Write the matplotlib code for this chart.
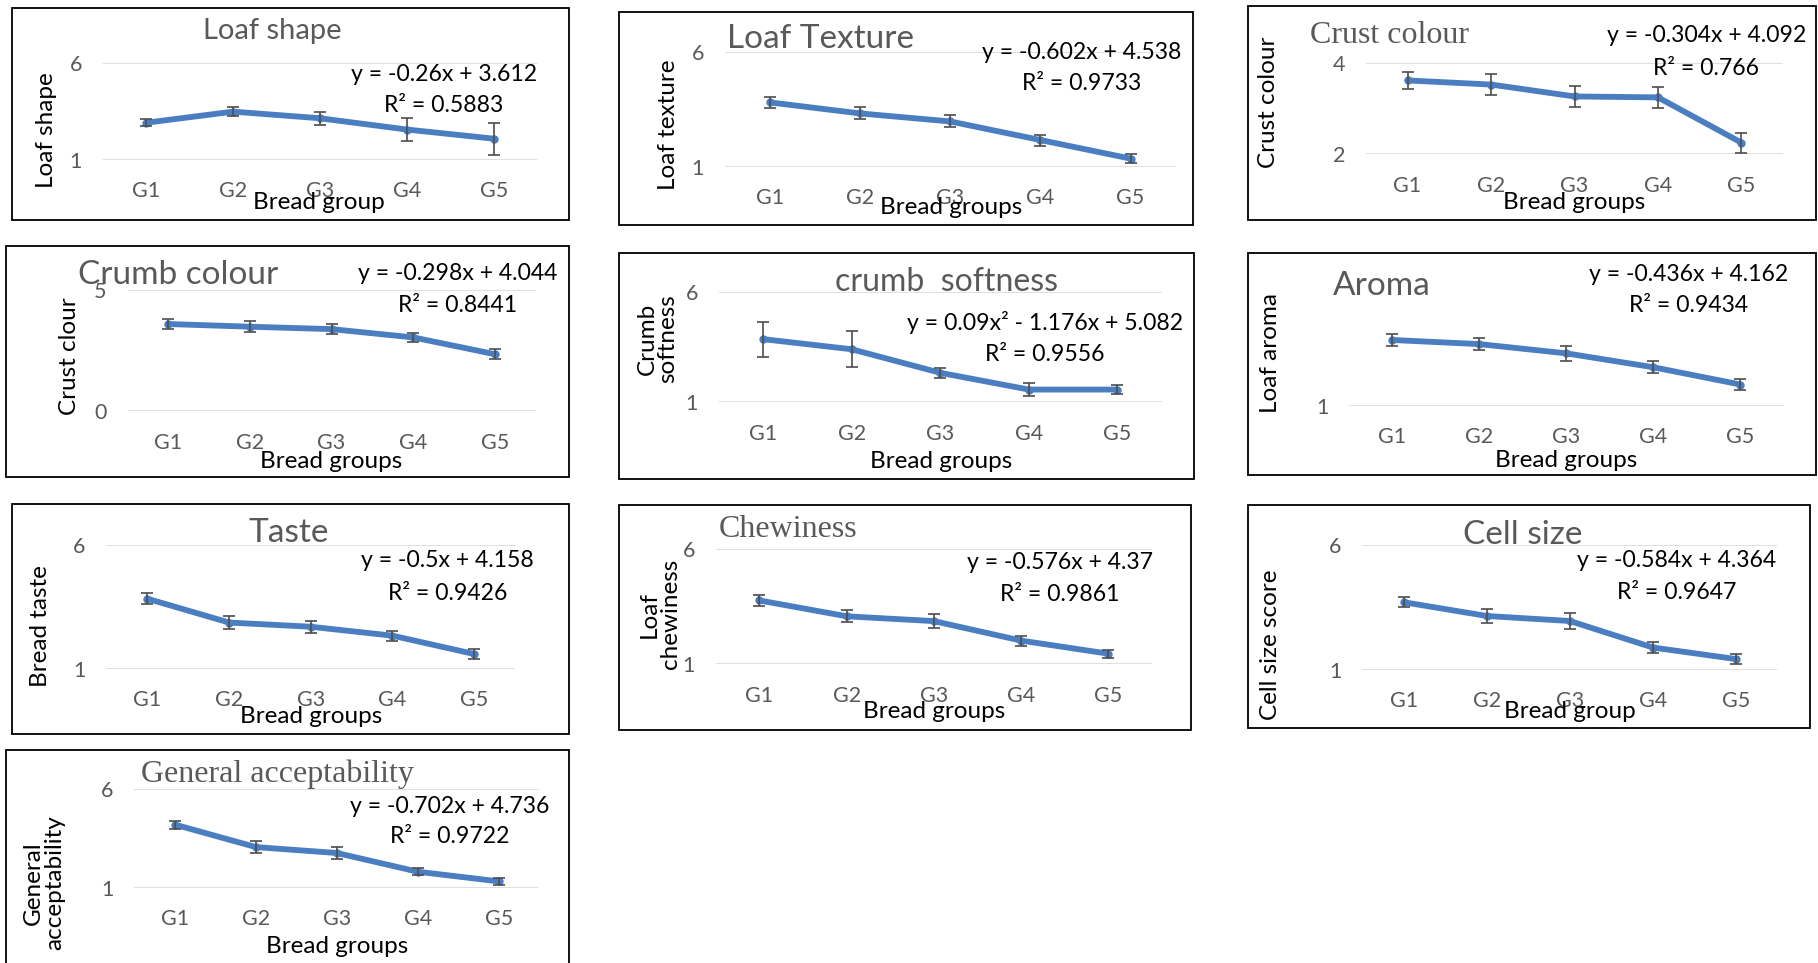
import matplotlib
matplotlib.use("Agg")
import matplotlib.pyplot as plt
from matplotlib.patches import Rectangle

plt.rcParams['font.family'] = ['Lato', 'DejaVu Sans']

# data
groups = ['G1', 'G2', 'G3', 'G4', 'G5']

loaf_shape = [2.91, 3.48, 3.14, 2.56, 2.09]
loaf_shape_err = [0.17, 0.24, 0.34, 0.58, 0.82]

loaf_texture = [3.81, 3.33, 2.98, 2.17, 1.36]
loaf_texture_err = [0.23, 0.26, 0.26, 0.24, 0.20]

crust_colour = [3.61, 3.52, 3.26, 3.24, 2.25]
crust_colour_err = [0.19, 0.22, 0.22, 0.23, 0.22]

crumb_colour = [3.59, 3.48, 3.38, 3.04, 2.35]
crumb_colour_err = [0.21, 0.22, 0.20, 0.18, 0.20]

crumb_softness = [3.86, 3.40, 2.33, 1.57, 1.57]
crumb_softness_err = [0.80, 0.81, 0.24, 0.30, 0.19]

aroma = [3.55, 3.39, 3.03, 2.49, 1.82]
aroma_err = [0.25, 0.23, 0.28, 0.23, 0.23]

taste = [3.82, 2.86, 2.69, 2.33, 1.59]
taste_err = [0.22, 0.27, 0.25, 0.20, 0.19]

chewiness = [3.77, 3.08, 2.87, 2.02, 1.45]
chewiness_err = [0.22, 0.26, 0.31, 0.22, 0.18]

cell_size = [3.70, 3.15, 2.95, 1.89, 1.43]
cell_size_err = [0.20, 0.27, 0.30, 0.22, 0.19]

general_acc = [4.20, 3.06, 2.76, 1.81, 1.32]
general_acc_err = [0.20, 0.29, 0.28, 0.19, 0.17]

equations = [
    'y = -0.26x + 3.612', 'y = -0.602x + 4.538', 'y = -0.304x + 4.092',
    'y = -0.298x + 4.044', 'y = 0.09x² - 1.176x + 5.082', 'y = -0.436x + 4.162',
    'y = -0.5x + 4.158', 'y = -0.576x + 4.37', 'y = -0.584x + 4.364',
    'y = -0.702x + 4.736',
]
r_squared = ['R² = 0.5883', 'R² = 0.9733', 'R² = 0.766', 'R² = 0.8441', 'R² = 0.9556',
             'R² = 0.9434', 'R² = 0.9426', 'R² = 0.9861', 'R² = 0.9647', 'R² = 0.9722']

# layout in reference pixels (1568 x 831 grid)
W, H = 1568, 831
panels = [
    dict(vals=loaf_shape, err=loaf_shape_err, box=(10, 7, 491, 190), ax=(88.5, 54, 463.5, 138),
         ylim=(1, 6), yt=[1, 6], title='Loaf shape', tpos=(235, 27), tha='center', serif=False, tfs=21,
         eq=(383, 64), r2=(383, 91), ylab='Loaf shape', ypos=(40, 112), xlab='Bread group', xpos=(275, 175)),
    dict(vals=loaf_texture, err=loaf_texture_err, box=(534, 10, 1029, 194), ax=(625, 45, 1014, 144),
         ylim=(1, 6), yt=[1, 6], title='Loaf Texture', tpos=(627, 34), tha='left', serif=False, tfs=24,
         eq=(933, 45), r2=(933, 72), ylab='Loaf texture', ypos=(577, 108), xlab='Bread groups', xpos=(820, 179)),
    dict(vals=crust_colour, err=crust_colour_err, box=(1076, 5, 1566, 190), ax=(1178, 54, 1538, 133),
         ylim=(2, 4), yt=[2, 4], title='Crust colour', tpos=(1130, 31), tha='left', serif=True, tfs=23,
         eq=(1472, 31), r2=(1471, 59), ylab='Crust colour', ypos=(1094, 88), xlab='Bread groups', xpos=(1358, 175)),
    dict(vals=crumb_colour, err=crumb_colour_err, box=(5, 212, 491, 412), ax=(110, 250, 462, 355),
         ylim=(0, 5), yt=[0, 5], title='Crumb colour', tpos=(67, 237), tha='left', serif=False, tfs=24,
         eq=(395, 236), r2=(395, 264), ylab='Crust clour', ypos=(60, 307), xlab='Bread groups', xpos=(286, 398)),
    dict(vals=crumb_softness, err=crumb_softness_err, box=(534, 218, 1030, 413), ax=(620, 252, 1002, 347),
         ylim=(1, 6), yt=[1, 6], title='crumb  softness', tpos=(816, 243), tha='center', serif=False, tfs=23,
         eq=(901, 278), r2=(901, 306), ylab='Crumb\nsoftness', ypos=(567, 292), xlab='Bread groups', xpos=(812, 398)),
    dict(vals=aroma, err=aroma_err, box=(1076, 218, 1566, 410), ax=(1163.5, 239, 1538.5, 350),
         ylim=(1, 6), yt=[1], title='Aroma', tpos=(1150, 247), tha='left', serif=False, tfs=24,
         eq=(1456, 237), r2=(1456, 264), ylab='Loaf aroma', ypos=(1096, 305), xlab='Bread groups', xpos=(1351, 397)),
    dict(vals=taste, err=taste_err, box=(10, 435, 491, 633), ax=(91.75, 470, 444.25, 577),
         ylim=(1, 6), yt=[1, 6], title='Taste', tpos=(249, 460), tha='center', serif=False, tfs=24,
         eq=(386, 484), r2=(386, 512), ylab='Bread taste', ypos=(35, 540), xlab='Bread groups', xpos=(268, 618)),
    dict(vals=chewiness, err=chewiness_err, box=(534, 436, 1027, 630), ax=(617.4, 474, 993.6, 573),
         ylim=(1, 6), yt=[1, 6], title='Chewiness', tpos=(620, 457), tha='left', serif=True, tfs=23,
         eq=(914, 485), r2=(914, 513), ylab='Loaf\nchewiness', ypos=(569, 530), xlab='Bread groups', xpos=(806, 614)),
    dict(vals=cell_size, err=cell_size_err, box=(1076, 436, 1561, 628), ax=(1175, 470, 1533, 578),
         ylim=(1, 6), yt=[1, 6], title='Cell size', tpos=(1313, 462), tha='center', serif=False, tfs=24,
         eq=(1446, 484), r2=(1446, 511), ylab='Cell size score', ypos=(1096, 556), xlab='Bread group', xpos=(1354, 614)),
    dict(vals=general_acc, err=general_acc_err, box=(5, 647, 491, 845), ax=(116, 681, 465, 766),
         ylim=(1, 6), yt=[1, 6], title='General acceptability', tpos=(122, 668), tha='left', serif=True, tfs=23,
         eq=(388, 696), r2=(388, 722), ylab='General\nacceptability', ypos=(38, 762), xlab='Bread groups', xpos=(291, 817)),
]

BLUE = '#4A7EC1'
GREY = '#595959'

fig = plt.figure(figsize=(18.18, 9.63), dpi=100)


def fx(x):
    return x / W


def fy(y):
    return 1 - y / H


x = list(range(len(groups)))
for i, p in enumerate(panels):
    bx0, by0, bx1, by1 = p['box']
    fig.add_artist(Rectangle((fx(bx0), fy(by1)), fx(bx1) - fx(bx0), fy(by0) - fy(by1),
                             transform=fig.transFigure, fill=False, ec='black', lw=1.3))

    ax0, ay0, ax1, ay1 = p['ax']
    ax = fig.add_axes([fx(ax0), fy(ay1), fx(ax1) - fx(ax0), fy(ay0) - fy(ay1)])
    ax.set_facecolor('none')
    for s in ax.spines.values():
        s.set_visible(False)
    ax.set_xlim(-0.5, len(groups) - 0.5)
    ax.set_ylim(*p['ylim'])
    ax.set_yticks(p['yt'])
    ax.set_xticks(x)
    ax.set_xticklabels(groups)
    ax.yaxis.grid(True, color='#D9D9D9', lw=1.2)
    ax.set_axisbelow(True)
    ax.tick_params(axis='both', length=0, labelsize=15.5, labelcolor=GREY)
    ax.tick_params(axis='x', pad=15.5)
    ax.tick_params(axis='y', pad=15)

    ax.plot(x, p['vals'], color=BLUE, lw=4.2, marker='o', ms=5,
            solid_capstyle='round', solid_joinstyle='round', zorder=2, clip_on=False)
    ax.errorbar(x, p['vals'], yerr=p['err'], fmt='none', ecolor='#4D4D4D',
                elinewidth=1.2, capsize=4, capthick=1.2, zorder=3, clip_on=False)

    fam = ['Liberation Serif'] if p['serif'] else ['Lato', 'DejaVu Sans']
    tx, ty = p['tpos']
    fig.text(fx(tx), fy(ty), p['title'], ha=p['tha'], va='center', fontsize=p['tfs'],
             color=GREY, family=fam)
    fig.text(fx(p['eq'][0]), fy(p['eq'][1]), equations[i], ha='center', va='center',
             fontsize=16.6, color='black')
    fig.text(fx(p['r2'][0]), fy(p['r2'][1]), r_squared[i], ha='center', va='center',
             fontsize=16.6, color='black')
    fig.text(fx(p['ypos'][0]), fy(p['ypos'][1]), p['ylab'], rotation=90, ha='center',
             va='center', fontsize=17.5, color='black', linespacing=1.0, multialignment='center')
    fig.text(fx(p['xpos'][0]), fy(p['xpos'][1]), p['xlab'], ha='center', va='center',
             fontsize=17.5, color='black')

fig.savefig('out.png', dpi=100)
